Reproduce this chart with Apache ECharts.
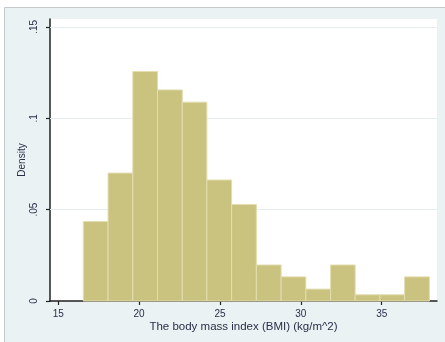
<!DOCTYPE html>
<html>
<head>
<meta charset="utf-8">
<script src="https://cdn.jsdelivr.net/npm/echarts@6/dist/echarts.min.js"></script>
<style>
html,body{margin:0;padding:0;background:#fff;}
#chart{width:445px;height:342px;}
</style>
</head>
<body>
<div id="chart"></div>
<script>
// Histogram bins (lower edges, upper edges) of BMI and densities
const binLower = [16.55, 18.08, 19.61, 21.14, 22.67, 24.19, 25.72, 27.25, 28.78, 30.31, 31.84, 33.36, 34.89, 36.42];
const binUpper = [18.08, 19.61, 21.14, 22.67, 24.19, 25.72, 27.25, 28.78, 30.31, 31.84, 33.36, 34.89, 36.42, 37.95];
const density  = [0.0435, 0.0700, 0.1256, 0.1155, 0.1088, 0.0662, 0.0528, 0.0197, 0.0132, 0.0065, 0.0197, 0.0034, 0.0034, 0.0132];
const xTicks = [15, 20, 25, 30, 35];
const yTicks = [0, 0.05, 0.1, 0.15];
const yTickLabels = ['0', '.05', '.1', '.15'];
const xTitle = 'The body mass index (BMI) (kg/m^2)';
const yTitle = 'Density';

const data = binLower.map((lo, i) => [lo, binUpper[i], density[i]]);
const textColor = '#2a2f48';
const chart = echarts.init(document.getElementById('chart'));
chart.setOption({
  animation: false,
  backgroundColor: '#ffffff',
  graphic: [{
    type: 'rect', z: -10, silent: true,
    shape: {x: 4.5, y: 7.5, width: 445, height: 340},
    style: {fill: '#eaf2f3', stroke: '#c4c8ca', lineWidth: 1}
  }],
  grid: {left: 50, right: 8, top: 19, bottom: 41, show: true, backgroundColor: '#ffffff', borderWidth: 0},
  xAxis: {
    type: 'value', min: 14.49, max: 38.42,
    name: xTitle, nameLocation: 'middle', nameGap: 20, nameMoveOverlap: false,
    nameTextStyle: {color: textColor, fontSize: 11.5, fontFamily: 'Liberation Sans'},
    axisLine: {show: true, onZero: false, lineStyle: {color: '#222', width: 1.5}},
    axisTick: {show: true, length: 4, customValues: xTicks, lineStyle: {color: '#222', width: 1.2}},
    axisLabel: {customValues: xTicks, color: textColor, fontSize: 10, margin: 8, fontFamily: 'Liberation Sans'},
    splitLine: {show: false}
  },
  yAxis: {
    type: 'value', min: 0, max: 0.1543,
    name: yTitle, nameLocation: 'middle', nameGap: 23, nameRotate: 90, nameMoveOverlap: false,
    nameTextStyle: {color: textColor, fontSize: 10, fontFamily: 'Liberation Sans'},
    axisLine: {show: true, lineStyle: {color: '#222', width: 1.5}},
    axisTick: {show: true, length: 4, customValues: yTicks, lineStyle: {color: '#222', width: 1.2}},
    axisLabel: {customValues: yTicks, rotate: 90, color: textColor, fontSize: 10, margin: 11, fontFamily: 'Liberation Sans',
      formatter: v => { const i = yTicks.findIndex(t => Math.abs(t - v) < 1e-9); return i >= 0 ? yTickLabels[i] : ''; }},
    splitLine: {show: false}
  },
  series: [{
    type: 'line', data: [], silent: true, z: 1,
    markLine: {
      silent: true, symbol: 'none', label: {show: false},
      lineStyle: {color: '#e4edf1', width: 1.2, type: 'solid'},
      data: yTicks.slice(1).map(v => ({yAxis: v}))
    }
  }, {
    type: 'custom', z: 5,
    renderItem: function (params, api) {
      const p0 = api.coord([api.value(0), api.value(2)]);
      const p1 = api.coord([api.value(1), 0]);
      return {
        type: 'rect',
        shape: {x: p0[0], y: p0[1], width: p1[0] - p0[0], height: p1[1] - p0[1]},
        style: {fill: '#cac27f', stroke: '#e3ddb0', lineWidth: 1}
      };
    },
    encode: {x: [0, 1], y: 2},
    data: data
  }]
});
</script>
</body>
</html>
